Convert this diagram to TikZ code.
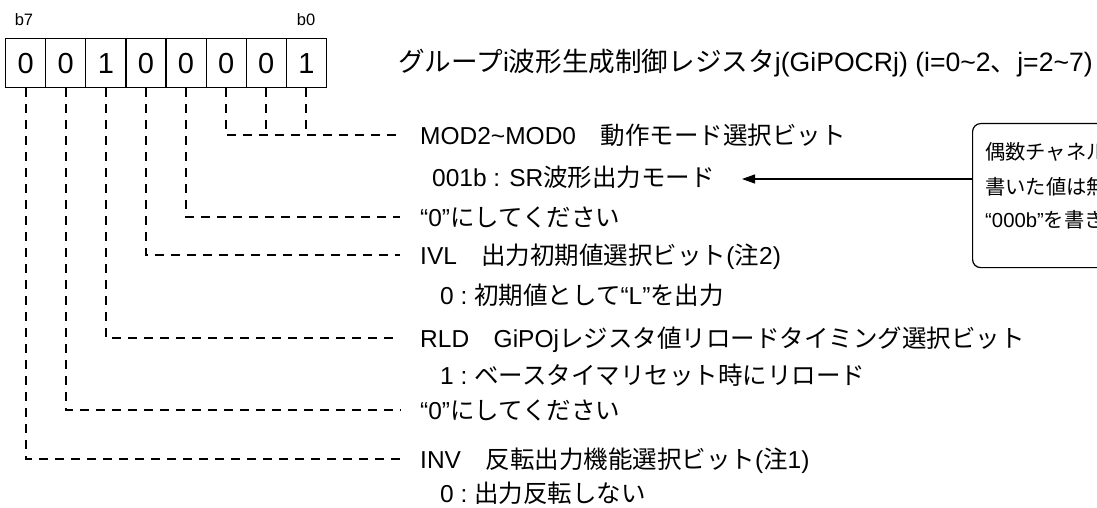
\documentclass[tikz,border=0pt]{standalone}
\usepackage{fontspec}
\setmainfont{Liberation Sans}
\newfontfamily\jp{Noto Sans CJK JP}
\usetikzlibrary{arrows.meta}
\newcommand{\tld}{{\char"7E}}
\begin{document}
\begin{tikzpicture}[x=1pt,y=-1pt,
  cell/.style={draw=black, line width=1.2pt, minimum width=40.1pt, minimum height=49pt, inner sep=0pt, anchor=north west, font=\fontsize{29}{32}\selectfont},
  bitlab/.style={font=\fontsize{16.5}{18}\selectfont, inner sep=0pt},
  lab/.style={anchor=west, inner sep=0pt, text height=18pt, text depth=0pt, font=\fontsize{24.5}{28}\selectfont},
  notetext/.style={anchor=west, inner sep=0pt, text height=15.5pt, text depth=0pt, font=\fontsize{20.3}{24}\selectfont},
  dl/.style={line width=1.9pt, dash pattern=on 9pt off 7pt},
  dlend/.style={dl, shorten >=20pt},
  arr/.style={line width=1.2pt, -{Triangle[length=13pt,width=9pt]}}
]
\clip (0,0) rectangle (1097,508);
% register cells (b7 ... b0)
\node[cell] (c7) at (5,38) {0};
\node[cell] (c6) at (45.1,38) {0};
\node[cell] (c5) at (85.2,38) {1};
\node[cell] (c4) at (125.3,38) {0};
\node[cell] (c3) at (165.4,38) {0};
\node[cell] (c2) at (205.5,38) {0};
\node[cell] (c1) at (245.6,38) {0};
\node[cell] (c0) at (285.7,38) {1};
\node[bitlab] (b7) at (24,20) {b7};
\node[bitlab] (b0) at (306,20) {b0};
% title
\node[lab, text height=19pt, font=\fontsize{26.6}{30}\selectfont] (title) at (398,62) {{\jp グループ}i{\jp 波形生成制御レジスタ}j(GiPOCRj) (i=0\tld 2{\jp 、}j=2\tld 7)};
% labels
\node[lab] (lmod) at (420,135) {MOD2\tld MOD0{\jp 　動作モード選択ビット}};
\node[lab] (vmod) at (432,177) {001b : SR{\jp 波形出力モード}};
\node[lab] (lz3) at (420,217) {“0”{\jp にしてください}};
\node[lab] (livl) at (420,255) {IVL{\jp 　出力初期値選択ビット}({\jp 注}2)};
\node[lab] (vivl) at (440,295) {0 :\ {\jp 初期値として}“L”{\jp を出力}};
\node[lab] (lrld) at (420,338) {RLD{\jp 　}GiPOj{\jp レジスタ値リロードタイミング選択ビット}};
\node[lab] (vrld) at (440,375) {1 :\ {\jp ベースタイマリセット時にリロード}};
\node[lab] (lz6) at (420,410) {“0”{\jp にしてください}};
\node[lab] (linv) at (420,459) {INV{\jp 　反転出力機能選択ビット}({\jp 注}1)};
\node[lab] (vinv) at (440,493) {0 :\ {\jp 出力反転しない}};
% connectors
\draw[dlend] (c2.south) |- (lmod.west);
\draw[dl] (c1.south) -- (c1.south |- lmod.west);
\draw[dl] (c0.south) -- (c0.south |- lmod.west);
\draw[dlend] (c3.south) |- (lz3.west);
\draw[dlend] (c4.south) |- (livl.west);
\draw[dlend] (c5.south) |- (lrld.west);
\draw[dlend] (c6.south) |- (lz6.west);
\draw[dlend] (c7.south) |- (linv.west);
% note box (cut off at the right edge, as in the reference)
\node[draw=black, line width=1.2pt, rounded corners=8pt, minimum width=278pt, minimum height=144pt, anchor=north west, inner sep=0pt] (note) at (972,123) {};
\node[notetext] (n1) at (985,152) {{\jp 偶数チャネル}};
\node[notetext] (n2) at (985,187) {{\jp 書いた値は無}};
\node[notetext] (n3) at (985,220) {“000b”{\jp を書き}};
\coordinate (atip) at (742,179);
\draw[arr] (note.west |- atip) -- (atip);
\end{tikzpicture}
\end{document}
